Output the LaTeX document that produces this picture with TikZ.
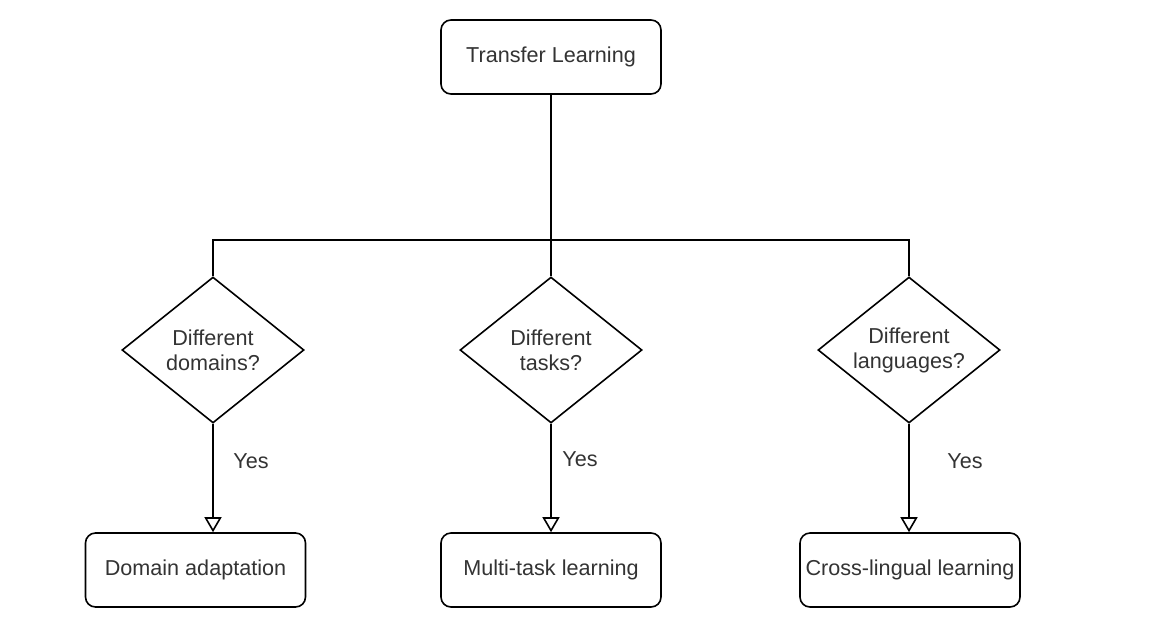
\documentclass[tikz,border=0pt]{standalone}
\usepackage{fontspec}
\setmainfont{Liberation Sans}
\usepackage{xcolor}
\usetikzlibrary{arrows.meta,positioning,shapes.geometric}

\begin{document}
\begin{tikzpicture}[
    x=0.5pt, y=-0.5pt, line width=0.8pt,
    >={Triangle[open, width=8.5pt, length=7.5pt]},
    box_node/.style={rectangle, rounded corners=5pt, draw=black, fill=white, minimum width=110pt, minimum height=37pt, inner sep=0pt, font=\fontsize{10.8}{12.5}\selectfont, text=black!80, align=center},
    decision_node/.style={diamond, aspect=1.25, draw=black, fill=white, minimum width=91pt, minimum height=73pt, inner sep=0pt, font=\fontsize{10.8}{12.5}\selectfont, text=black!80, align=center},
    yes_lbl/.style={font=\fontsize{10.8}{12.5}\selectfont, text=black!80}
]
    \useasboundingbox (0,0) rectangle (1165,621);

    % Root
    \node[box_node] (TL) at (551,57) {Transfer Learning};
    \coordinate (split) at (551,240);

    % Decisions
    \node[decision_node] (D1) at (213,350) {Different\\domains?};
    \node[decision_node] (D2) at (551,350) {Different\\tasks?};
    \node[decision_node] (D3) at (909,350) {Different\\languages?};

    % Outcomes
    \node[box_node] (B1) at (195.5,570) {Domain adaptation};
    \node[box_node] (B2) at (551,570) {Multi-task learning};
    \node[box_node] (B3) at (910,570) {Cross-lingual learning};

    % Tree lines
    \draw (TL.south) -- (split);
    \draw (D1.north) |- (split) -| (D3.north);
    \draw (split) -- (D2.north);

    % Yes branches
    \draw[->] (D1.south) -- (D1.south |- B1.north);
    \draw[->] (D2.south) -- (D2.south |- B2.north);
    \draw[->] (D3.south) -- (D3.south |- B3.north);
    \node[yes_lbl] (Y1) at (251,461) {Yes};
    \node[yes_lbl] (Y2) at (580,459) {Yes};
    \node[yes_lbl] (Y3) at (965,461) {Yes};
\end{tikzpicture}
\end{document}
